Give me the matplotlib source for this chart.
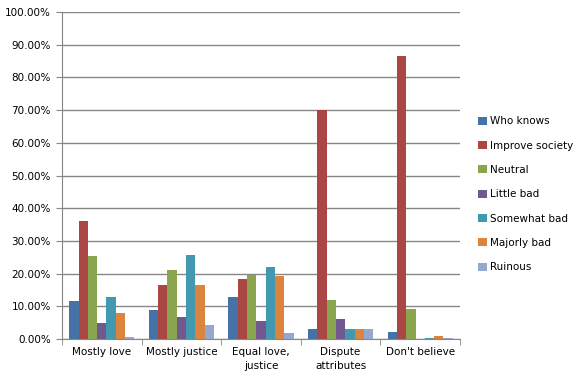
import matplotlib
matplotlib.use("Agg")
import matplotlib.pyplot as plt
import numpy as np
from matplotlib.ticker import FuncFormatter, FixedLocator

categories = ["Mostly love", "Mostly justice", "Equal love,\njustice", "Dispute\nattributes", "Don't believe"]
series_names = ["Who knows", "Improve society", "Neutral", "Little bad", "Somewhat bad", "Majorly bad", "Ruinous"]
who_knows = [11.7, 8.9, 12.8, 3.0, 2.1]
improve_society = [36.1, 16.5, 18.3, 70.0, 86.5]
neutral = [25.4, 21.1, 19.5, 11.9, 9.2]
little_bad = [4.9, 6.7, 5.5, 6.1, 0.0]
somewhat_bad = [12.8, 25.7, 22.0, 3.0, 0.3]
majorly_bad = [7.9, 16.5, 19.3, 3.0, 1.0]
ruinous = [0.6, 4.3, 1.8, 3.0, 0.3]
series = [who_knows, improve_society, neutral, little_bad, somewhat_bad, majorly_bad, ruinous]
colors = ["#4572A7", "#AA4643", "#89A54E", "#71588F", "#4198AF", "#DB843D", "#93A9CF"]

fig = plt.figure(figsize=(5.88, 3.88), dpi=100)
ax = fig.add_axes([62/588, 1-339/388, (460-62)/588, (339-12)/388])

n = len(series)
bw = 0.117
x = np.arange(len(categories))
for i, (vals, c, name) in enumerate(zip(series, colors, series_names)):
    ax.bar(x + (i - (n-1)/2)*bw, vals, width=bw, color=c, label=name, linewidth=0)

ax.set_xlim(-0.5, len(categories)-0.5)
ax.set_ylim(0, 100)
ax.set_yticks(np.arange(0, 101, 10))
ax.yaxis.set_major_formatter(FuncFormatter(lambda v, p: f"{v:.2f}%"))
ax.yaxis.grid(True, color="#868686", linewidth=1.0)
ax.set_axisbelow(True)
ax.set_xticks(x)
ax.set_xticklabels(categories, fontsize=7.5, linespacing=1.5)
ax.xaxis.set_minor_locator(FixedLocator(np.arange(-0.5, len(categories), 1)))
ax.tick_params(axis="x", which="major", length=0, pad=6)
ax.tick_params(axis="x", which="minor", length=4, color="#868686")
ax.tick_params(axis="y", length=4, color="#868686", labelsize=7.5, pad=4)
for s in ["top", "right"]:
    ax.spines[s].set_visible(False)
for s in ["left", "bottom"]:
    ax.spines[s].set_color("#868686")

leg = fig.legend(loc="upper left", bbox_to_anchor=(474/588, 1-112/388), frameon=False,
                 fontsize=7.5, handlelength=0.8, handleheight=0.8, handletextpad=0.3,
                 labelspacing=1.38, borderaxespad=0)
fig.savefig("out.png", dpi=100)
